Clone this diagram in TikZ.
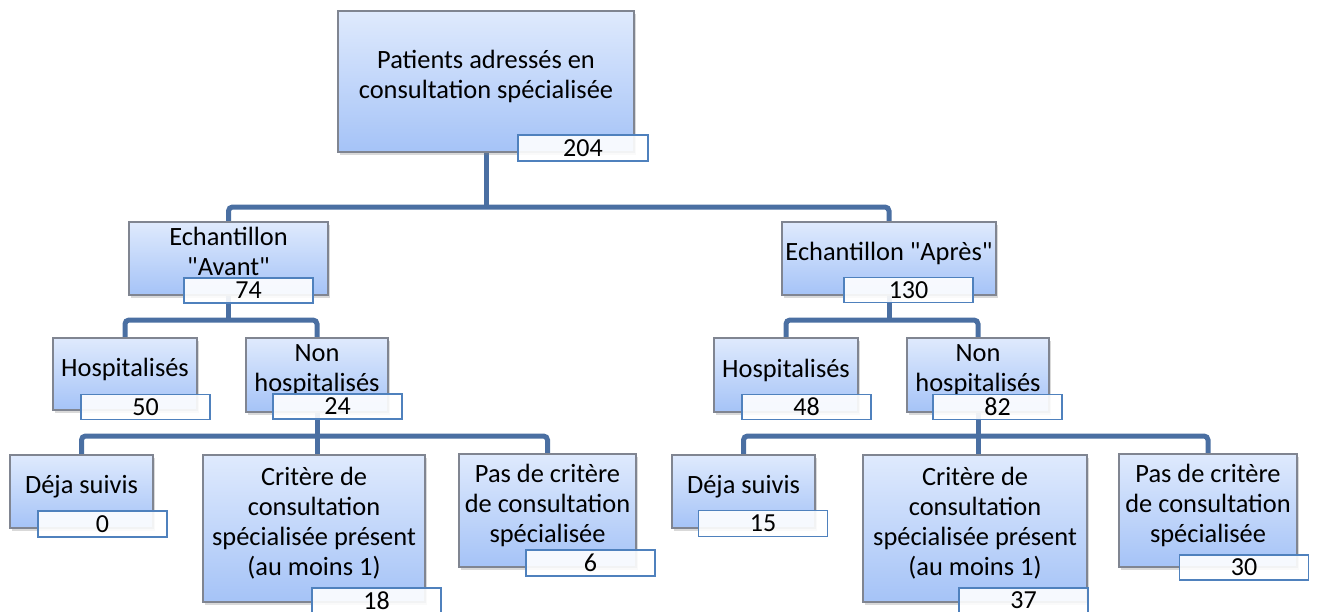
\documentclass[tikz,border=0pt]{standalone}
\usepackage{fontspec}
\setmainfont{Carlito}
\usetikzlibrary{calc, shadows, backgrounds}

\definecolor{boxtop}{RGB}{223,234,253}
\definecolor{boxbottom}{RGB}{165,195,247}
\definecolor{boxline}{RGB}{128,133,145}
\definecolor{numline}{RGB}{79,129,189}
\definecolor{linkcol}{RGB}{74,111,162}

\tikzset{
	box/.style={rectangle, draw=boxline, line width=0.6pt, top color=boxtop, bottom color=boxbottom,
		drop shadow={shadow xshift=1.2pt, shadow yshift=-1.5pt, opacity=0.3},
		align=center, inner sep=0pt, text depth=7pt, font=\fontsize{13.2}{14.9}\selectfont},
	numbox/.style={rectangle, draw=numline, line width=0.8pt, fill=white, fill opacity=0.9, text opacity=1,
		inner sep=0pt, minimum width=64.5pt, minimum height=12.5pt, font=\fontsize{13}{14}\selectfont},
	link/.style={draw=linkcol, line width=2.5pt, rounded corners=2pt}
}

\begin{document}
\begin{tikzpicture}[x=0.5pt, y=-0.5pt]
	\useasboundingbox (0,0) rectangle (1320,611);

	\node[box, minimum width=148pt, minimum height=70.5pt] (patients) at (486,81.5) {Patients adressés en\\consultation spécialisée};
	\node[numbox, minimum width=65pt, minimum height=13pt] (npatients) at (583,148) {204};

	\node[box, minimum width=99.5pt, minimum height=36.5pt] (avant) at (228.5,258.5) {Echantillon\\\textquotedbl Avant\textquotedbl};
	\node[numbox] (navant) at (248.5,290.5) {74};
	\node[box, minimum width=107pt, minimum height=36.5pt] (apres) at (889,258.5) {Echantillon \textquotedbl Après\textquotedbl};
	\node[numbox] (napres) at (908.5,290) {130};

	\node[box, minimum width=72pt, minimum height=36pt] (hospA) at (125,374) {Hospitalisés};
	\node[numbox] (nhospA) at (145.5,407) {50};
	\node[box, minimum width=71pt, minimum height=37pt] (nonhospA) at (317,375) {Non\\hospitalisés};
	\node[numbox] (nnonhospA) at (337.5,406.5) {24};
	\node[box, minimum width=72pt, minimum height=37pt] (hospB) at (786,375) {Hospitalisés};
	\node[numbox] (nhospB) at (806.5,407) {48};
	\node[box, minimum width=71pt, minimum height=37pt] (nonhospB) at (978,375) {Non\\hospitalisés};
	\node[numbox] (nnonhospB) at (997.5,407) {82};

	\node[box, minimum width=71.5pt, minimum height=36.5pt] (dejaA) at (81.5,491.5) {Déja suivis};
	\node[numbox, minimum height=13pt] (ndejaA) at (102.5,524) {0};
	\node[box, minimum width=111pt, minimum height=73.5pt] (critA) at (314,528.5) {Critère de\\consultation\\spécialisée présent\\(au moins 1)};
	\node[numbox] (ncritA) at (376.5,600.5) {18};
	\node[box, minimum width=88.5pt, minimum height=56.5pt] (pasA) at (547.5,510.5) {Pas de critère\\de consultation\\spécialisée};
	\node[numbox, minimum height=13pt] (npasA) at (590.5,563) {6};

	\node[box, minimum width=71.5pt, minimum height=36.5pt] (dejaB) at (743.5,491.5) {Déja suivis};
	\node[numbox, minimum height=13pt] (ndejaB) at (763,523.5) {15};
	\node[box, minimum width=112pt, minimum height=73.5pt] (critB) at (975,528.5) {Critère de\\consultation\\spécialisée présent\\(au moins 1)};
	\node[numbox] (ncritB) at (1023.5,600.5) {37};
	\node[box, minimum width=89pt, minimum height=56.5pt] (pasB) at (1208,510.5) {Pas de critère\\de consultation\\spécialisée};
	\node[numbox] (npasB) at (1244,567.5) {30};

	\begin{scope}[on background layer]
		\coordinate (y1) at (0,207);
		\coordinate (y2) at (0,320);
		\coordinate (y3) at (0,436);
		\draw[link] (avant.north) |- (patients.south |- y1) -| (apres.north);
		\draw[link] (patients.south) -- (patients.south |- y1);
		\draw[link] (hospA.north) |- (avant.south |- y2) -| (nonhospA.north);
		\draw[link] (avant.south) -- (avant.south |- y2);
		\draw[link] (hospB.north) |- (apres.south |- y2) -| (nonhospB.north);
		\draw[link] (apres.south) -- (apres.south |- y2);
		\draw[link] (dejaA.north) |- (nonhospA.south |- y3) -| (pasA.north);
		\draw[link] (nonhospA.south) -- (nonhospA.south |- critA.north);
		\draw[link] (dejaB.north) |- (nonhospB.south |- y3) -| (pasB.north);
		\draw[link] (nonhospB.south) -- (nonhospB.south |- critB.north);
	\end{scope}
\end{tikzpicture}
\end{document}
